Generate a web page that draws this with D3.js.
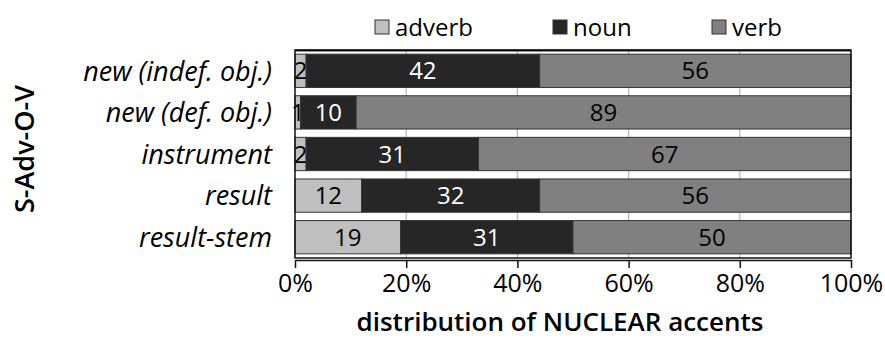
<!DOCTYPE html>
<html lang="en">
<head>
<meta charset="UTF-8">
<title>S-Adv-O-V nuclear accents</title>
<script src="https://cdn.jsdelivr.net/npm/d3@7"></script>
<style>
  body { margin: 0; background: #fff; }
  text { font-family: "Open Sans", "Noto Sans", sans-serif; }
</style>
</head>
<body>
<script>
// data
var categories = ["new (indef. obj.)", "new (def. obj.)", "instrument", "result", "result-stem"];
var adverb = [2, 1, 2, 12, 19];
var noun = [42, 10, 31, 32, 31];
var verb = [56, 89, 67, 56, 50];
var keys = ["adverb", "noun", "verb"];
var ticks = [0, 20, 40, 60, 80, 100];

var colors = { adverb: "#bfbfbf", noun: "#262626", verb: "#808080" };
var textColors = { adverb: "#000", noun: "#fff", verb: "#000" };

var W = 885, H = 350;
var margin = { top: 50, left: 295, right: 34, bottom: 92 };
var width = W - margin.left - margin.right;
var height = H - margin.top - margin.bottom;

var rows = categories.map(function (c, i) {
  return { cat: c, adverb: adverb[i], noun: noun[i], verb: verb[i] };
});
var stacked = d3.stack().keys(keys)(rows);

var x = d3.scaleLinear().domain([0, 100]).range([0, width]);
var y = d3.scaleBand().domain(categories).range([0, height]).paddingInner(0.2).paddingOuter(0.1);

var svg = d3.select("body").append("svg")
  .attr("width", W).attr("height", H);
var g = svg.append("g")
  .attr("transform", "translate(" + margin.left + "," + margin.top + ")");

// grid
g.selectAll(".grid").data(ticks.slice(1, -1)).enter().append("line")
  .attr("x1", function (d) { return x(d); })
  .attr("x2", function (d) { return x(d); })
  .attr("y1", 0).attr("y2", height)
  .attr("stroke", "#b5b5b5").attr("stroke-width", 1.2);

// bars
var layer = g.selectAll(".layer").data(stacked).enter().append("g");
layer.selectAll("rect").data(function (d) { return d.map(function (p) { return { k: d.key, p: p }; }); })
  .enter().append("rect")
  .attr("x", function (d) { return x(d.p[0]); })
  .attr("width", function (d) { return x(d.p[1]) - x(d.p[0]); })
  .attr("y", function (d) { return y(d.p.data.cat); })
  .attr("height", y.bandwidth())
  .attr("fill", function (d) { return colors[d.k]; })
  .attr("stroke", "#333").attr("stroke-width", 1);

layer.selectAll("text").data(function (d) { return d.map(function (p) { return { k: d.key, p: p }; }); })
  .enter().append("text")
  .attr("x", function (d) { return x((d.p[0] + d.p[1]) / 2); })
  .attr("y", function (d) { return y(d.p.data.cat) + y.bandwidth() / 2; })
  .attr("dy", "0.36em")
  .attr("text-anchor", "middle")
  .attr("font-size", 24)
  .attr("fill", function (d) { return textColors[d.k]; })
  .text(function (d) { return d.p.data[d.k]; });

// frame
g.append("rect").attr("x", 0).attr("y", 0).attr("width", width).attr("height", height)
  .attr("fill", "none").attr("stroke", "#111").attr("stroke-width", 1.5);
g.append("line").attr("x1", 0).attr("x2", width).attr("y1", 0.5).attr("y2", 0.5)
  .attr("stroke", "#111").attr("stroke-width", 2);

// x axis
var xAxis = g.append("g")
  .attr("transform", "translate(0," + (height + 2) + ")")
  .call(d3.axisBottom(x).tickValues(ticks).tickSize(8).tickSizeOuter(0)
    .tickFormat(function (d) { return d + "%"; }));
xAxis.select(".domain").attr("stroke", "#111").attr("stroke-width", 1.5);
xAxis.selectAll(".tick line").attr("stroke", "#111").attr("stroke-width", 1.5);
xAxis.selectAll(".tick text").attr("font-size", 25).attr("fill", "#000")
  .attr("font-family", "Open Sans, sans-serif").attr("dy", "0.85em");

// y labels
g.selectAll(".cat").data(categories).enter().append("text")
  .attr("x", -23)
  .attr("y", function (d) { return y(d) + y.bandwidth() / 2; })
  .attr("dy", "0.36em")
  .attr("text-anchor", "end")
  .attr("font-size", 27)
  .attr("font-style", "italic")
  .text(function (d) { return d; });

// axis titles
svg.append("text")
  .attr("x", margin.left + width / 2 - 13).attr("y", 331)
  .attr("text-anchor", "middle")
  .attr("font-size", 26).attr("font-weight", 600)
  .text("distribution of NUCLEAR accents");

svg.append("text")
  .attr("transform", "translate(34,149) rotate(-90)")
  .attr("text-anchor", "middle")
  .attr("font-size", 27).attr("font-weight", 600)
  .text("S-Adv-O-V");

// legend
var legendX = [375, 553, 712];
var leg = svg.selectAll(".leg").data(keys).enter().append("g")
  .attr("transform", function (d, i) { return "translate(" + legendX[i] + ",20)"; });
leg.append("rect").attr("width", 14).attr("height", 14)
  .attr("fill", function (d) { return colors[d]; })
  .attr("stroke", "#333").attr("stroke-width", 1);
leg.append("text").attr("x", 20).attr("y", 7).attr("dy", "0.36em")
  .attr("font-size", 24).text(function (d) { return d; });
</script>
</body>
</html>
